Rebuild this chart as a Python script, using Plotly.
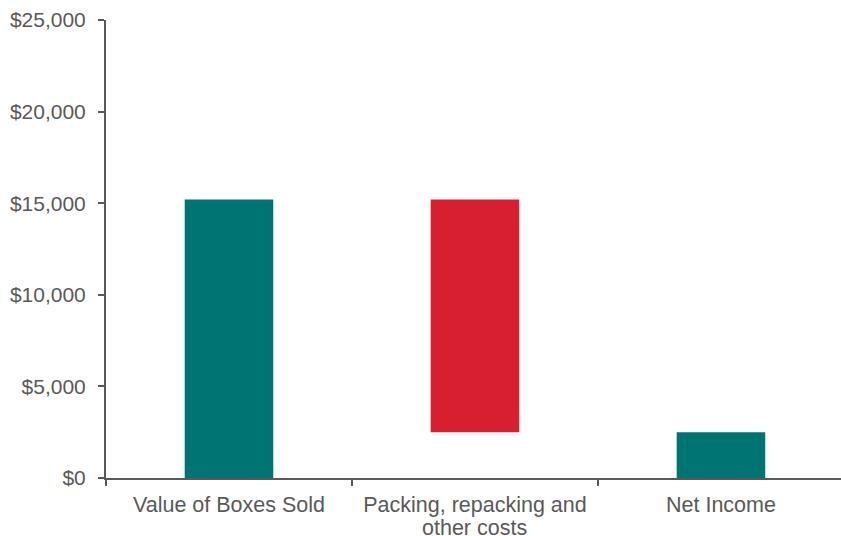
import plotly.graph_objects as go

categories = ["Value of Boxes Sold", "Packing, repacking and other costs", "Net Income"]
tick_labels = ["Value of Boxes Sold", "Packing, repacking and", "Net Income"]
wrapped_line = "other costs"
measures = ["absolute", "relative", "total"]
values = [15200, -12700, 0]
y_ticks = [0, 5000, 10000, 15000, 20000, 25000]
y_tick_labels = ["$0", "$5,000", "$10,000", "$15,000", "$20,000", "$25,000"]

teal = "#007373"
red = "#D71F30"
gray = "#595959"

fig = go.Figure(go.Waterfall(
    x=categories,
    y=values,
    measure=measures,
    width=0.36,
    increasing=dict(marker=dict(color=teal)),
    decreasing=dict(marker=dict(color=red)),
    totals=dict(marker=dict(color=teal)),
    connector=dict(visible=False),
    hoverinfo="skip",
))

fig.add_annotation(
    x=categories[1], y=0, xref="x", yref="paper",
    text=wrapped_line, showarrow=False,
    xanchor="center", yanchor="middle", yshift=-50,
    font=dict(family="Liberation Sans, Arial, sans-serif", size=21.5, color=gray),
)

fig.update_layout(
    width=841, height=536,
    margin=dict(l=106, r=0, t=20, b=58),
    plot_bgcolor="white", paper_bgcolor="white",
    showlegend=False,
    font=dict(family="Liberation Sans, Arial, sans-serif", size=21, color=gray),
)
fig.update_xaxes(
    range=[-0.5, 2.488],
    automargin=False,
    tickmode="array", tickvals=categories, ticktext=tick_labels,
    showline=True, linecolor=gray, linewidth=2,
    ticks="outside", tickson="boundaries", ticklen=6, tickwidth=2, tickcolor=gray,
    showgrid=False, zeroline=False,
    ticklabelstandoff=6,
    tickfont=dict(size=21.5, color=gray),
)
fig.update_yaxes(
    range=[0, 25000],
    automargin=False,
    tickmode="array", tickvals=y_ticks, ticktext=y_tick_labels,
    showline=True, linecolor=gray, linewidth=2,
    ticks="outside", ticklen=6, tickwidth=2, tickcolor=gray,
    showgrid=False, zeroline=False,
    ticklabelstandoff=8,
    tickfont=dict(size=21, color=gray),
)

fig.write_html(
    "out.html",
    config={"displayModeBar": False},
    post_script="document.body.style.margin='0';document.body.style.overflow='hidden';",
)
